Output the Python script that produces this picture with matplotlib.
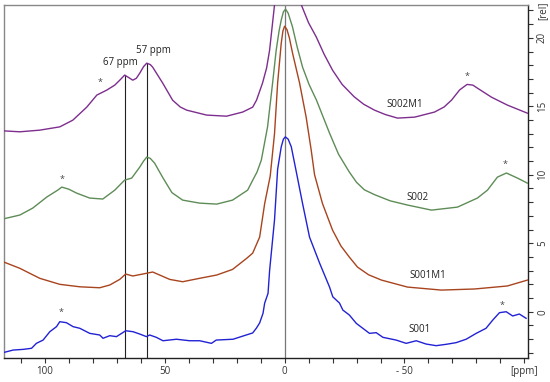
import numpy as np
import matplotlib.pyplot as plt
from matplotlib.ticker import FixedLocator

plt.rcParams['font.family'] = ['Open Sans', 'DejaVu Sans']

# spectra: (ppm, intensity)
s002m1_ppm = [117.4, 110.4, 102.1, 93.75, 88.3, 82.5, 78.3, 74.2, 70.8, 68.5, 66.7, 65.0, 63.3,
              61.8, 60.4, 58.8, 57.5, 56.0, 55.0, 50.8, 46.7, 43.5, 40.8, 32.5, 24.2, 17.5, 13.3,
              11.7, 9.2, 7.5, 6.25, 4.2, 2.0, -1.0, -4.5, -7.0, -10.0, -13.2, -16.5, -20.0,
              -24.0, -29.0, -33.0, -37.5, -42.0, -47.1, -54.2, -62.5, -66.5, -69.6, -73.0,
              -76.1, -78.5, -80.4, -86.25, -92.9, -101.25]
s002m1_val = [13.21, 13.14, 13.26, 13.50, 13.99, 14.94, 15.82, 16.18, 16.55, 16.95, 17.28, 17.1, 16.91,
              17.05, 17.42, 17.9, 18.15, 18.05, 17.86, 16.69, 15.45, 14.95, 14.72, 14.36, 14.28, 14.58, 14.94,
              15.45, 16.7, 17.8, 19.1, 22.4, 25.5, 27.5, 25.5, 22.4, 21.1, 20.07, 18.8, 17.64,
              16.6, 15.7, 15.15, 14.72, 14.4, 14.14, 14.21, 14.58, 14.95, 15.45, 16.2,
              16.6, 16.55, 16.33, 15.67, 15.09, 14.5]

s002_ppm = [117.5, 110.4, 105.0, 99.2, 94.6, 92.9, 90.0, 86.7, 81.25, 75.8, 70.8, 66.7, 63.75,
            60.4, 58.8, 57.5, 56.0, 54.2, 50.8, 47.0, 42.5, 35.4, 28.3, 21.7, 15.4, 13.3, 11.5,
            9.7, 7.1, 5.0, 3.5, 2.3, 1.4, 0.5, -0.4, -1.5, -3.3, -5.3, -7.5, -10.2, -13.3,
            -18.75, -22.5, -27.0, -30.0, -33.3, -37.5, -44.0, -51.25, -61.25, -72.1, -80.4,
            -84.6, -88.75, -92.5, -97.1, -101.25]
s002_val = [6.77, 7.06, 7.57, 8.37, 8.88, 9.10, 8.95, 8.66, 8.30, 8.23, 8.88, 9.61, 9.76,
            10.56, 11.0, 11.29, 11.2, 10.85, 9.8, 8.7, 8.15, 7.93, 7.86, 8.15, 8.88, 9.6, 10.2,
            11.07, 13.5, 16.7, 19.1, 20.5, 21.3, 21.9, 22.1, 21.8, 20.8, 19.3, 17.86, 16.6, 15.45,
            13.04, 11.5, 10.2, 9.45, 8.9, 8.55, 8.1, 7.79, 7.42, 7.64, 8.3,
            8.88, 9.83, 10.13, 9.76, 9.39]

s001m1_ppm = [117.4, 110.4, 102.1, 93.75, 85.4, 77.1, 72.9, 68.75, 66.25, 63.3, 59.2, 55.0,
              52.1, 47.9, 42.5, 35.4, 28.3, 21.7, 15.8, 13.3, 10.4, 8.3, 6.0, 4.2, 2.9, 1.4,
              0.7, 0.0, -1.0, -2.0, -3.3, -6.25, -9.0, -11.1, -12.5, -15.8, -20.0, -23.5,
              -27.0, -30.4, -35.0, -40.4, -51.25, -65.4, -79.2, -92.9, -101.25]
s001m1_val = [3.65, 3.17, 2.44, 2.0, 1.82, 1.75, 1.95, 2.36, 2.75, 2.61, 2.75, 2.90,
              2.68, 2.36, 2.19, 2.44, 2.68, 3.09, 3.90, 4.28, 5.45, 7.9, 9.9, 13.0, 16.7, 19.6,
              20.5, 20.85, 20.6, 20.0, 18.9, 16.7, 14.2, 11.8, 10.0, 7.9, 5.96, 4.8,
              3.99, 3.26, 2.7, 2.31, 1.80, 1.58, 1.66, 1.88, 2.31]

s001_ppm = [117.4, 113.2, 109.0, 105.5, 103.5, 100.7, 97.9, 95.1, 93.75, 91.0, 88.2, 85.4,
            81.25, 77.1, 75.7, 72.9, 70.1, 66.25, 63.2, 60.4, 57.6, 56.25, 53.5, 50.7, 45.1,
            39.6, 35.4, 30.5, 28.5, 21.5, 16.0, 13.3, 11.8, 10.4, 9.0, 8.3, 6.9, 6.25, 4.2,
            2.9, 1.4, 0.5, -0.3, -1.5, -2.8, -4.9, -7.5, -10.4, -14.6, -18.75, -20.1, -22.9, -24.3,
            -27.0, -29.9, -35.4, -38.2, -41.0, -46.5, -50.7, -54.9, -59.0, -63.2, -67.4,
            -71.5, -75.7, -79.9, -84.0, -86.8, -89.6, -92.4, -95.1, -97.9, -100.7]
s001_val = [-2.99, -2.80, -2.75, -2.67, -2.31, -2.07, -1.46, -1.09, -0.73, -0.80, -1.09, -1.21,
            -1.58, -1.70, -1.94, -1.75, -1.82, -1.39, -1.46, -1.63, -1.82, -1.70, -1.87, -2.12, -2.01,
            -2.12, -2.12, -2.31, -2.07, -2.01, -1.70, -1.55, -1.21, -0.82, -0.12, 0.63, 1.34, 3.0, 6.7,
            10.4, 12.04, 12.6, 12.77, 12.6, 12.04, 10.2, 7.9, 5.45, 3.55, 1.8, 1.09, 0.63, 0.12,
            -0.24, -0.85, -1.58, -1.53, -1.87, -2.07, -2.31, -2.12, -2.36, -2.48, -2.38,
            -2.26, -2.01, -1.58, -1.21, -0.61, -0.07, 0.0, -0.31, -0.17, -0.48]

names = ['S002M1', 'S002', 'S001M1', 'S001']
colors = ['#7d2e8e', '#5e8c57', '#a8441e', '#2222d4']
label_pos = [(-50, 15.15), (-55.4, 8.36), (-59.6, 2.68), (-56.25, -1.33)]
stars = [(77.1, 16.77), (-76.1, 17.15), (92.9, 9.68), (-92.1, 10.78),
         (93.0, -0.07), (-90.7, 0.47)]
marks = [(66.7, 17.28, '67 ppm', 68.5, 18.2), (57.5, 18.15, '57 ppm', 54.6, 19.05)]

fig = plt.figure(figsize=(5.5, 3.82), dpi=100)
ax = fig.add_axes([4/550, 24/382, 524/550, 353/382])

spectra = [(s002m1_ppm, s002m1_val), (s002_ppm, s002_val),
           (s001m1_ppm, s001m1_val), (s001_ppm, s001_val)]
for (x, y), c in zip(spectra, colors):
    ax.plot(x, y, color=c, lw=1.0, zorder=3)

for name, (x, y) in zip(names, label_pos):
    ax.text(x, y, name, fontsize=7, ha='center', va='center', color='#222222')

for x, y in stars:
    ax.text(x, y, '*', fontsize=6.5, ha='center', va='center', color='#444444')

ylo, yhi = -3.38, 22.4
ax.axvline(0, color='#777777', lw=0.9, zorder=2)
for x, ytop, txt, tx, ty in marks:
    ax.plot([x, x], [ylo, ytop], color='#222222', lw=0.8, zorder=2)
    ax.text(tx, ty, txt, fontsize=7, ha='center', va='center', color='#222222')

ax.set_xlim(117, -101.5)
ax.set_ylim(ylo, yhi)

xt = np.arange(110, -101, -10)
ax.xaxis.set_major_locator(FixedLocator(xt))
xlab = {100: '100', 50: '50', 0: '0', -50: '- 50', -100: '[ppm]'}
ax.set_xticklabels([xlab.get(int(v), '') for v in xt])
yt = np.arange(-3, 23, 1)
ax.yaxis.set_major_locator(FixedLocator(yt))
ylab = {0: '0', 5: '5', 10: '10', 15: '15', 20: '20', 22: '[rel]'}
ax.set_yticklabels([ylab.get(int(v), '') for v in yt], rotation=90, va='center')

ax.yaxis.tick_right()
ax.tick_params(axis='both', length=3.5, width=0.8, labelsize=7, colors='#333333', pad=2)
ax.tick_params(axis='y', pad=3)

ax.spines['top'].set_color('#888888')
ax.spines['left'].set_color('#888888')
ax.spines['bottom'].set_color('#222222')
ax.spines['right'].set_color('#222222')
for s in ax.spines.values():
    s.set_linewidth(1.0)

fig.savefig('out.png', dpi=100)
